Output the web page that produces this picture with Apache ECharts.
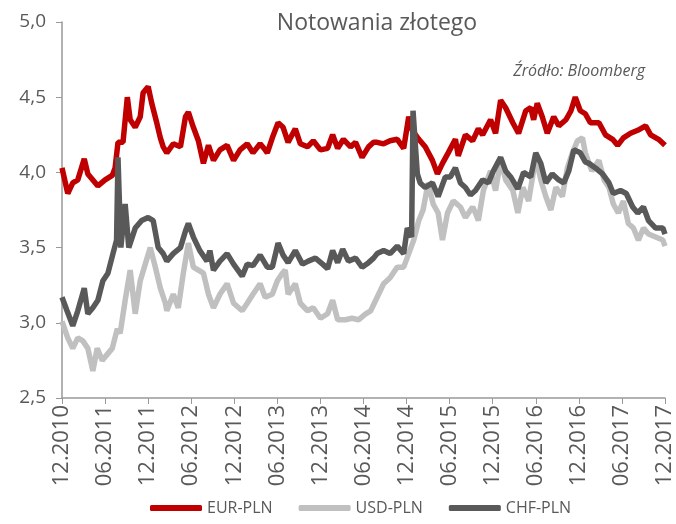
<!DOCTYPE html>
<html>
<head>
<meta charset="utf-8">
<script src="https://cdn.jsdelivr.net/npm/echarts@6/dist/echarts.min.js"></script>
<style>
  html, body { margin: 0; padding: 0; background: #fff; }
  #chart { width: 676px; height: 524px; }
</style>
</head>
<body>
<div id="chart"></div>
<script>
// x = months counted from 12.2010
const tickLabels = ["12.2010", "06.2011", "12.2011", "06.2012", "12.2012", "06.2013", "12.2013",
  "06.2014", "12.2014", "06.2015", "12.2015", "06.2016", "12.2016", "06.2017", "12.2017"];

const eurPln = [[0,4.03],[0.8,3.86],[1.5,3.93],[2.2,3.95],[3.1,4.09],[3.6,3.99],[5,3.91],[6,3.95],[7,3.98],[7.4,4.03],
  [7.8,4.2],[8.5,4.2],[9.1,4.5],[9.5,4.35],[10.2,4.3],[10.9,4.37],[11.3,4.53],[12,4.57],[12.5,4.46],[13.2,4.33],
  [13.7,4.23],[14.1,4.17],[14.6,4.13],[15.5,4.19],[16.5,4.17],[17.2,4.37],[17.6,4.4],[18.3,4.3],[19,4.21],[19.7,4.06],
  [20.4,4.18],[21.1,4.08],[22,4.15],[23,4.18],[23.9,4.08],[24.8,4.15],[25.8,4.19],[26.6,4.13],[27.6,4.19],[28.3,4.15],
  [28.6,4.13],[29.3,4.23],[30.1,4.33],[30.8,4.3],[31.5,4.2],[32.5,4.29],[33.2,4.19],[34.2,4.17],[35,4.21],[36,4.15],
  [37,4.16],[37.7,4.25],[38.4,4.16],[39.2,4.22],[40.2,4.17],[40.9,4.2],[41.8,4.1],[42.7,4.17],[43.4,4.2],[43.9,4.2],
  [44.8,4.19],[45.7,4.21],[46.7,4.22],[47.6,4.16],[48.3,4.37],[48.8,4.28],[49.7,4.22],[50.6,4.17],[51.6,4.08],[52.3,3.99],
  [53,4.06],[53.8,4.13],[54.8,4.22],[55.2,4.11],[56.2,4.25],[57.2,4.21],[58,4.29],[58.6,4.25],[59.7,4.35],[60.4,4.26],
  [61.1,4.48],[61.8,4.43],[62.8,4.33],[63.6,4.26],[64.6,4.41],[65.3,4.43],[65.7,4.35],[66.2,4.46],[66.9,4.37],[67.6,4.26],
  [68.5,4.37],[69.2,4.31],[70.2,4.35],[70.9,4.41],[71.5,4.5],[72.2,4.41],[72.9,4.39],[73.6,4.33],[74.8,4.33],[75.7,4.25],
  [76.7,4.22],[77.4,4.18],[78.2,4.23],[79.2,4.26],[80.2,4.28],[81.3,4.31],[82,4.25],[83.1,4.22],[84,4.18]];

const usdPln = [[0,3.01],[0.8,2.9],[1.5,2.83],[2.2,2.9],[2.9,2.88],[3.6,2.83],[4.3,2.68],[4.9,2.83],[5.6,2.75],[6.3,2.79],
  [7,2.83],[7.7,2.96],[8.1,2.93],[8.8,3.15],[9.5,3.35],[10.2,3.06],[10.9,3.28],[11.6,3.39],[12.3,3.5],[13,3.37],
  [13.7,3.23],[14.4,3.13],[14.6,3.08],[15.5,3.19],[16.2,3.1],[16.9,3.33],[17.6,3.53],[18.3,3.37],[19,3.35],[19.7,3.33],
  [20.4,3.19],[21.1,3.1],[22,3.19],[23,3.26],[23.9,3.13],[25.1,3.08],[25.8,3.13],[26.6,3.19],[27.6,3.26],[28.3,3.17],
  [29.3,3.19],[30,3.28],[30.7,3.33],[31.1,3.35],[31.5,3.19],[32.5,3.26],[33.2,3.13],[34.2,3.08],[35,3.1],[36,3.03],
  [37,3.06],[37.7,3.15],[38.4,3.02],[39.5,3.02],[40.4,3.03],[41.3,3.02],[42.3,3.06],[43,3.08],[43.9,3.17],[44.8,3.26],
  [45.7,3.3],[46.7,3.37],[47.6,3.37],[48.3,3.46],[49,3.55],[49.7,3.68],[50.3,3.75],[51,3.93],[51.7,3.79],[52.4,3.73],
  [53,3.55],[53.7,3.73],[54.5,3.81],[55.5,3.77],[56.2,3.7],[57.2,3.77],[57.6,3.73],[58,3.68],[58.7,3.88],[59.7,4.01],
  [60.4,3.88],[61.1,4.08],[61.8,3.95],[62.8,3.88],[63.5,3.73],[64.2,3.9],[65,3.81],[66,4.1],[66.7,3.95],[67.4,3.84],
  [68.1,3.75],[68.8,3.9],[69.7,3.84],[70.4,4.03],[71.1,4.13],[71.8,4.21],[72.5,4.23],[72.9,4.13],[73.8,4.01],[74.8,4.08],
  [75.5,3.95],[76.2,3.9],[76.8,3.79],[77.5,3.73],[78.2,3.81],[78.9,3.66],[79.6,3.63],[80.3,3.55],[81,3.63],[81.7,3.59],
  [82.7,3.57],[83.7,3.55],[84,3.51]];

const chfPln = [[0,3.17],[0.7,3.08],[1.5,2.98],[2.2,3.08],[3.1,3.23],[3.6,3.06],[4.3,3.1],[5,3.15],[5.7,3.28],[6.4,3.33],
  [7.1,3.46],[7.6,3.55],[7.8,4.1],[8.2,3.5],[8.8,3.79],[9.3,3.5],[10.2,3.63],[11.1,3.68],[12,3.7],[12.7,3.68],
  [13.4,3.5],[14.1,3.46],[14.6,3.41],[15.5,3.46],[16.5,3.5],[17.2,3.61],[17.6,3.66],[18.3,3.57],[19.2,3.48],[20.2,3.41],
  [20.6,3.48],[21.1,3.35],[22,3.41],[23,3.46],[23.9,3.39],[25.1,3.31],[25.8,3.39],[26.6,3.38],[27.6,3.45],[28.6,3.37],
  [29.3,3.37],[30.1,3.53],[30.8,3.45],[31.5,3.4],[32.5,3.48],[33.5,3.39],[34.3,3.41],[35.3,3.43],[36.3,3.39],[37,3.36],
  [37.7,3.48],[38.4,3.4],[39.1,3.49],[39.9,3.41],[40.9,3.43],[41.8,3.37],[42.7,3.4],[43.4,3.43],[43.9,3.46],[44.8,3.48],
  [45.7,3.46],[46.7,3.51],[47.6,3.46],[48.1,3.63],[48.7,3.57],[48.9,4.41],[49.5,3.99],[49.9,3.93],[50.6,3.9],[51.6,3.93],
  [52.4,3.84],[53.4,3.97],[54.1,3.97],[54.8,4.03],[55.5,3.93],[56.2,3.9],[56.9,3.85],[57.6,3.88],[58.6,3.95],[59.4,3.93],
  [60.1,4.01],[61.1,4.1],[61.8,4.01],[62.5,3.97],[63.5,3.89],[64.3,4.0],[65.3,3.97],[66,4.13],[66.7,4.06],[67.4,3.93],
  [68.3,3.99],[69.2,3.95],[69.9,3.93],[70.6,4.01],[71.3,4.15],[72.2,4.13],[72.9,4.07],[73.4,4.06],[74.3,4.03],[75.3,3.99],
  [76.2,3.93],[76.8,3.86],[77.8,3.88],[78.6,3.86],[79.5,3.77],[80.2,3.73],[81,3.77],[81.7,3.68],[82.7,3.63],[83.7,3.63],
  [84,3.59]];

const chart = echarts.init(document.getElementById("chart"));
const font = "'Open Sans', sans-serif";

chart.setOption({
  animation: false,
  textStyle: { fontFamily: font },
  title: [
    {
      text: "Notowania złotego",
      left: 372, top: 7, textAlign: "center",
      textStyle: { fontSize: 23, fontWeight: "normal", color: "#595959", fontFamily: font }
    },
    {
      text: "Źródło: Bloomberg",
      right: 26, top: 58,
      textStyle: { fontSize: 16, fontWeight: "normal", fontStyle: "italic", color: "#595959", fontFamily: font }
    }
  ],
  legend: {
    left: 145, top: 495,
    icon: "roundRect", itemWidth: 52, itemHeight: 6, itemGap: 26,
    textStyle: { fontSize: 16, color: "#595959", fontFamily: font },
    data: ["EUR-PLN", "USD-PLN", "CHF-PLN"]
  },
  grid: { left: 62, right: 11, top: 22, bottom: 126 },
  xAxis: {
    type: "value", min: 0, max: 84, interval: 6,
    axisLine: { lineStyle: { color: "#999", width: 1.5 } },
    axisTick: { length: 6, lineStyle: { color: "#999" } },
    splitLine: { show: false },
    axisLabel: {
      rotate: 90, margin: 7, fontSize: 22, color: "#595959",
      formatter: v => tickLabels[Math.round(v / 6)] || ""
    }
  },
  yAxis: {
    type: "value", min: 2.5, max: 5, interval: 0.5,
    axisLine: { show: true, lineStyle: { color: "#999", width: 1.5 } },
    axisTick: { show: true, length: 6, lineStyle: { color: "#999" } },
    splitLine: { show: false },
    axisLabel: {
      margin: 16, fontSize: 19, color: "#595959",
      formatter: v => v.toFixed(1).replace(".", ",")
    }
  },
  series: [
    { name: "EUR-PLN", type: "line", data: eurPln, showSymbol: false, color: "#C00000", lineStyle: { width: 5.5 } },
    { name: "USD-PLN", type: "line", data: usdPln, showSymbol: false, color: "#C0C0C0", lineStyle: { width: 5.5 } },
    { name: "CHF-PLN", type: "line", data: chfPln, showSymbol: false, color: "#595959", lineStyle: { width: 5.5 } }
  ]
});
</script>
</body>
</html>
